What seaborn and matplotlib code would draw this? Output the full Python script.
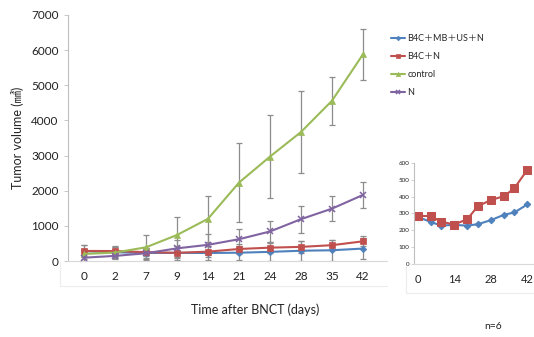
import matplotlib
matplotlib.use("Agg")
import matplotlib.pyplot as plt
import seaborn as sns
import pandas as pd
from matplotlib.lines import Line2D

# data
days = ["0", "2", "7", "9", "14", "21", "24", "28", "35", "42"]
b4c_mb_us_n = [280, 250, 228, 232, 228, 236, 260, 292, 306, 354]
b4c_mb_us_n_err = [180, 150, 150, 200, 200, 200, 250, 280, 300, 310]
b4c_n = [286, 284, 252, 234, 266, 342, 380, 402, 450, 560]
b4c_n_err = [180, 150, 120, 150, 150, 150, 150, 170, 150, 140]
control = [200, 240, 390, 740, 1200, 2230, 2970, 3670, 4560, 5880]
control_err = [150, 150, 350, 500, 650, 1120, 1180, 1160, 680, 730]
n_only = [95, 145, 220, 360, 460, 620, 840, 1190, 1490, 1880]
n_only_err = [100, 100, 150, 250, 300, 300, 300, 380, 360, 360]

# inset (close-up of the two treated groups)
inset_days = [0, 5, 9, 14, 19, 23, 28, 33, 37, 42]
inset_ticks = [0, 14, 28, 42]

series = [
    ("B4C＋MB＋US＋N", b4c_mb_us_n, b4c_mb_us_n_err, "#4F81BD", "D", 3.3),
    ("B4C＋N", b4c_n, b4c_n_err, "#C0504D", "s", 5),
    ("control", control, control_err, "#9BBB59", "^", 4.5),
    ("N", n_only, n_only_err, "#8064A2", "x", 4.5),
]

sns.set_style("white")
plt.rcParams["font.family"] = ["Lato", "Noto Sans CJK JP", "DejaVu Sans"]

fig = plt.figure(figsize=(5.34, 3.37), dpi=100)
ax = fig.add_axes([0.127, 0.2255, 0.598, 0.730])

pos = list(range(len(days)))
for name, vals, err, color, marker, ms in series:
    ax.errorbar(pos, vals, yerr=err, fmt="none", ecolor="#8c8c8c",
                elinewidth=0.9, capsize=2, capthick=0.9, zorder=1)
for name, vals, err, color, marker, ms in series:
    df = pd.DataFrame({"x": pos, "y": vals})
    sns.lineplot(data=df, x="x", y="y", ax=ax, color=color, marker=marker,
                 markersize=ms, markeredgecolor=color,
                 markeredgewidth=1.1 if marker == "x" else 0.5,
                 linewidth=1.5, label=name, zorder=3)

ax.set_xlim(-0.52, 9.78)
ax.set_ylim(0, 7000)
ax.set_yticks(range(0, 7001, 1000))
ax.set_xticks(pos)
ax.set_xticklabels(days)
ax.tick_params(axis="x", length=0, pad=7, labelsize=8.5, colors="#222222")
ax.tick_params(axis="y", length=3, width=0.6, labelsize=8.5,
               colors="#bfbfbf", labelcolor="#222222", left=True)
for s in ["top", "right"]:
    ax.spines[s].set_visible(False)
ax.spines["left"].set_color("#bfbfbf")
ax.spines["bottom"].set_color("#d9d9d9")
ax.set_xlabel("")
ax.set_ylabel("Tumor volume (㎣)", fontsize=9, labelpad=5)

leg = ax.legend(loc="upper left", bbox_to_anchor=(0.726, 0.91), bbox_transform=fig.transFigure,
                frameon=False, fontsize=6.5, handlelength=1.5, handletextpad=0.3,
                labelspacing=1.0, borderaxespad=0, markerscale=0.7)

fig.text(0.478, 0.08, "Time after BNCT (days)", ha="center", va="center", fontsize=9, color="#222222")
fig.text(0.923, 0.03, "n=6", ha="center", va="center", fontsize=7.5, color="#222222")

# faint frame lines around the tick label rows
fig.add_artist(Line2D([60 / 534, 60 / 534], [1 - 262 / 337, 1 - 286 / 337], color="#ececec", lw=0.8))
fig.add_artist(Line2D([60 / 534, 387 / 534], [1 - 286 / 337, 1 - 286 / 337], color="#ececec", lw=0.8))

# inset
axi = fig.add_axes([0.775, 0.2166, 0.225, 0.30])
for name, vals, color, marker, ms in [
    ("B4C＋MB＋US＋N", b4c_mb_us_n, "#4F81BD", "D", 3.3),
    ("B4C＋N", b4c_n, "#C0504D", "s", 5.5),
]:
    df = pd.DataFrame({"x": inset_days, "y": vals})
    sns.lineplot(data=df, x="x", y="y", ax=axi, color=color, marker=marker,
                 markersize=ms, markeredgecolor=color, linewidth=1.5, legend=False)
axi.set_xlim(-1.4, 44.5)
axi.set_ylim(0, 600)
axi.set_yticks(range(0, 601, 100))
axi.set_xticks(inset_ticks)
axi.tick_params(axis="x", length=0, pad=7, labelsize=8, colors="#222222")
axi.tick_params(axis="y", length=2, width=0.5, labelsize=4.5, pad=1,
                colors="#bfbfbf", labelcolor="#222222", left=True)
for s in ["top", "right"]:
    axi.spines[s].set_visible(False)
axi.spines["left"].set_color("#bfbfbf")
axi.spines["bottom"].set_color("#d9d9d9")
axi.set_xlabel("")
axi.set_ylabel("")
fig.add_artist(Line2D([406 / 534, 406 / 534], [1 - 266 / 337, 1 - 293 / 337], color="#ececec", lw=0.8))
fig.add_artist(Line2D([406 / 534, 534 / 534], [1 - 293 / 337, 1 - 293 / 337], color="#ececec", lw=0.8))

fig.savefig("out.png", dpi=100)
